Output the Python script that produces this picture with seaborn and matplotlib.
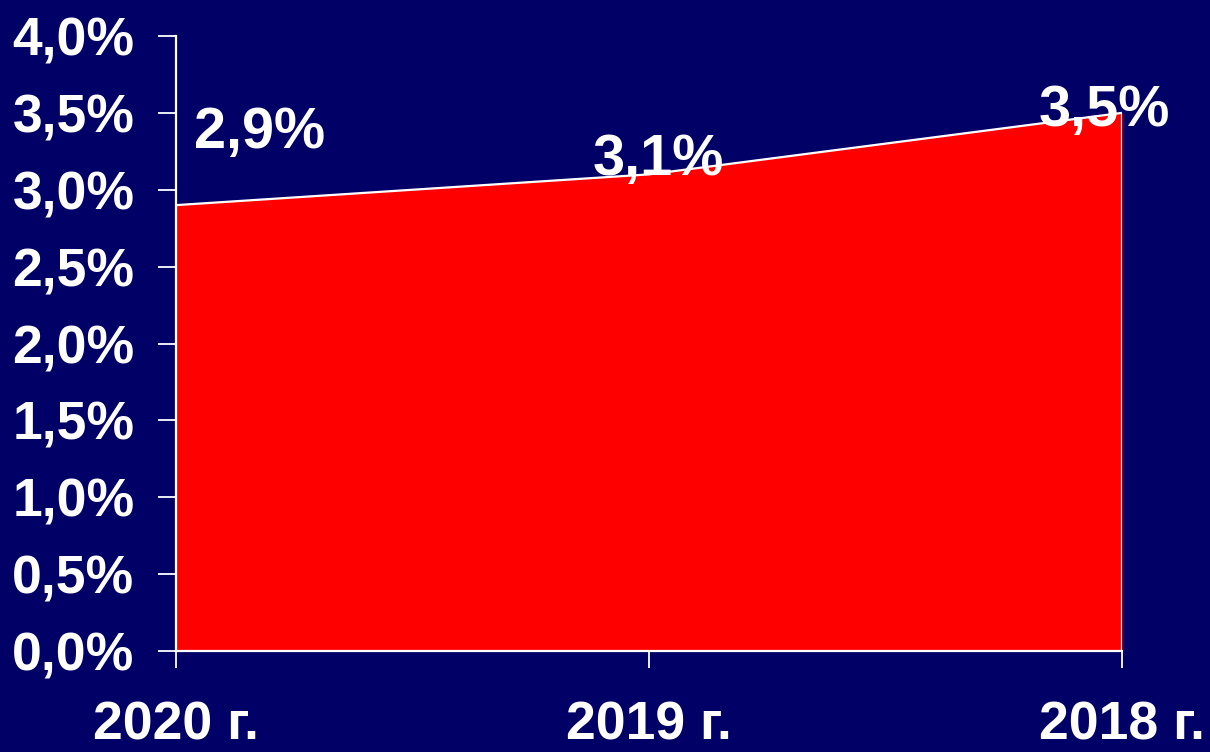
import matplotlib
matplotlib.use("Agg")
import matplotlib.pyplot as plt
import seaborn as sns
import pandas as pd

years = ["2020 г.", "2019 г.", "2018 г."]
rates = [2.9, 3.1, 3.5]
value_labels = ["2,9%", "3,1%", "3,5%"]
y_ticks = [0.0, 0.5, 1.0, 1.5, 2.0, 2.5, 3.0, 3.5, 4.0]
y_tick_labels = ["0,0%", "0,5%", "1,0%", "1,5%", "2,0%", "2,5%", "3,0%", "3,5%", "4,0%"]

BG = "#000066"
FILL = "#ff0000"
WHITE = "#ffffff"

sns.set_theme(style="white")
plt.rcParams["font.family"] = ["Liberation Sans", "DejaVu Sans"]
plt.rcParams["font.weight"] = "bold"

df = pd.DataFrame({"pos": range(len(years)), "year": years, "rate": rates})

fig = plt.figure(figsize=(12.1, 7.52), dpi=100, facecolor=BG)
ax = fig.add_axes([176 / 1210, 1 - 651 / 752, (1122 - 176) / 1210, (651 - 36) / 752])
ax.set_facecolor(BG)

ax.fill_between(df["pos"], 0, df["rate"], color=FILL, linewidth=0, zorder=2)
sns.lineplot(data=df, x="pos", y="rate", color=WHITE, linewidth=1.6, ax=ax, zorder=3)
# right edge of the area
ax.plot([df["pos"].iloc[-1]] * 2, [0, df["rate"].iloc[-1]], color=WHITE, linewidth=1.6, zorder=3)

ax.set_xlim(0, len(years) - 1)
ax.set_ylim(0, 4.0)
ax.set_xticks(df["pos"])
ax.set_xticklabels(years)
ax.set_yticks(y_ticks)
ax.set_yticklabels(y_tick_labels)
ax.set_xlabel("")
ax.set_ylabel("")

for side in ("top", "right"):
    ax.spines[side].set_visible(False)
for side in ("left", "bottom"):
    ax.spines[side].set_color(WHITE)
    ax.spines[side].set_linewidth(1.6)
    ax.spines[side].set_zorder(4)

ax.tick_params(axis="y", colors=WHITE, length=13, width=1.3, pad=17, labelsize=38.5, left=True)
ax.tick_params(axis="x", colors=WHITE, length=12, width=1.3, pad=24, labelsize=38.5, bottom=True)
for lab in ax.get_xticklabels() + ax.get_yticklabels():
    lab.set_fontweight("bold")

# value labels, offsets in points
offsets = [(60, 52), (7, 10), (-13, 1)]
for x, y, text, off in zip(df["pos"], df["rate"], value_labels, offsets):
    ax.annotate(text, (x, y), xytext=off, textcoords="offset points",
                ha="center", va="center", color=WHITE, fontsize=41.5,
                fontweight="bold", zorder=5, annotation_clip=False)

fig.savefig("out.png", dpi=100, facecolor=BG)
